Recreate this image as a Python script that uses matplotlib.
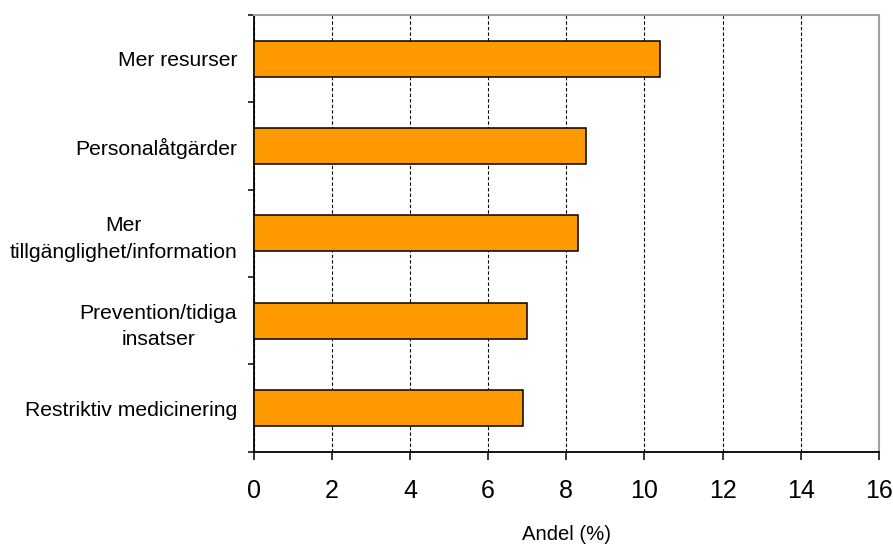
import numpy as np
import matplotlib.pyplot as plt
from matplotlib.ticker import FixedLocator, NullFormatter

plt.rcParams['font.family'] = ['Liberation Sans', 'DejaVu Sans']

categories = ['Mer resurser', 'Personalåtgärder', 'Mer\ntillgänglighet/information',
              'Prevention/tidiga\ninsatser', 'Restriktiv medicinering']
andel = [10.4, 8.5, 8.3, 7.0, 6.9]
xticks = [0, 2, 4, 6, 8, 10, 12, 14, 16]

fig = plt.figure(figsize=(8.93, 5.45), dpi=100)
ax = fig.add_axes([0.2841, 0.1712, 0.7, 0.8013])

y = np.arange(len(categories))
ax.barh(y, andel, height=0.41, color='#FF9900', edgecolor='black', linewidth=1.1, zorder=3)

ax.set_xlim(0, 16)
ax.set_ylim(len(categories) - 0.5, -0.5)
ax.set_xticks(xticks)
ax.set_xticklabels([str(t) for t in xticks], fontsize=18)
ax.tick_params(axis='x', direction='out', length=5.5, width=1.1, pad=14)

# category names sit between the tick marks at band boundaries
ax.set_yticks(y)
ax.set_yticklabels(categories, fontsize=15.2, multialignment='center', linespacing=1.5)
ax.tick_params(axis='y', which='major', length=0, pad=12)
ax.yaxis.set_minor_locator(FixedLocator(np.arange(len(categories) + 1) - 0.5))
ax.yaxis.set_minor_formatter(NullFormatter())
ax.tick_params(axis='y', which='minor', direction='out', length=4.5, width=1.1)

ax.grid(axis='x', color='black', linestyle=(0, (3, 2)), linewidth=0.8, zorder=1)

for side in ['left', 'bottom']:
    ax.spines[side].set_color('black')
    ax.spines[side].set_linewidth(1.3)
for side in ['top', 'right']:
    ax.spines[side].set_color('#A0A0A0')
    ax.spines[side].set_linewidth(1.5)

ax.set_xlabel('Andel (%)', fontsize=14.6, labelpad=16)

fig.savefig('out.png', dpi=100)
